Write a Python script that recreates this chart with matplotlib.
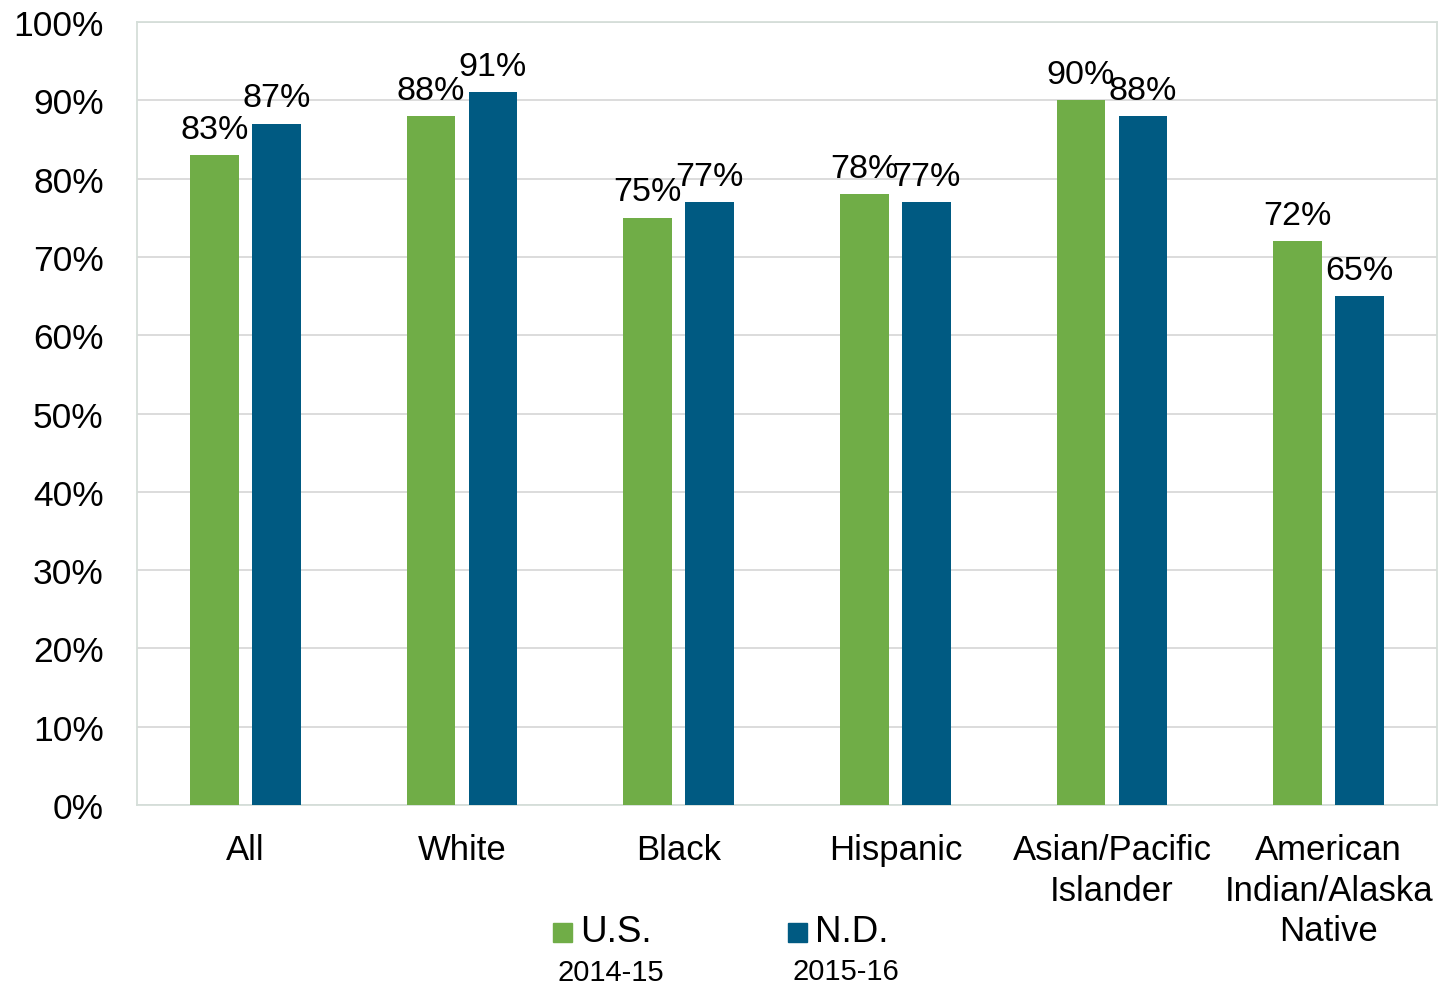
import matplotlib
matplotlib.use("Agg")
import matplotlib.pyplot as plt
import numpy as np
from matplotlib.patches import Rectangle

plt.rcParams['font.family'] = ['Liberation Sans', 'DejaVu Sans']

categories = ["All", "White", "Black", "Hispanic", "Asian/Pacific\nIslander", "American\nIndian/Alaska\nNative"]
us_values = [83, 88, 75, 78, 90, 72]
nd_values = [87, 91, 77, 77, 88, 65]
series_names = ["U.S.", "N.D."]
series_years = ["2014-15", "2015-16"]
yticks = [0, 10, 20, 30, 40, 50, 60, 70, 80, 90, 100]

green = "#70AD47"
blue = "#005A82"

fig = plt.figure(figsize=(14.51, 9.87), dpi=100)
ax = fig.add_axes([137/1451, 1 - 806/987, 1300/1451, 783/987])

x = np.arange(len(categories))
w = 0.225
off = 0.143
b1 = ax.bar(x - off, us_values, w, color=green, zorder=3)
b2 = ax.bar(x + off, nd_values, w, color=blue, zorder=3)

for bars, vals in ((b1, us_values), (b2, nd_values)):
    for r, v in zip(bars, vals):
        ax.annotate(f"{v}%", (r.get_x() + r.get_width()/2, v), xytext=(0, 12.5),
                    textcoords="offset points", ha="center", va="baseline",
                    fontsize=24.5, color="black")

ax.set_xlim(-0.5, len(categories) - 0.5)
ax.set_ylim(0, 100)
ax.set_yticks(yticks)
ax.set_yticklabels([f"{t}%" for t in yticks], fontsize=25.5)
ax.set_xticks(x)
ax.set_xticklabels(categories, fontsize=25, linespacing=1.3)
ax.tick_params(axis='both', length=0)
ax.tick_params(axis='y', pad=24)
ax.tick_params(axis='x', pad=20)
ax.grid(axis='y', color="#D9D9D9", linewidth=1.3, zorder=0)
for s in ax.spines.values():
    s.set_color("#D5DED9")
    s.set_linewidth(1.3)

# legend
W, H = 1451, 987
for (x0, col, name, yr, yrx, yry) in ((553, green, series_names[0], series_years[0], 611, 973),
                                      (788, blue, series_names[1], series_years[1], 846, 972)):
    fig.patches.append(Rectangle((x0/W, 1 - 943/H), 19/W, 19/H, transform=fig.transFigure,
                                 color=col))
    fig.text((x0 + 27)/W, 1 - 933/H, name, fontsize=26.5, va="center", ha="left")
    fig.text(yrx/W, 1 - yry/H, yr, fontsize=21, va="center", ha="center")

fig.savefig("out.png", dpi=100)
